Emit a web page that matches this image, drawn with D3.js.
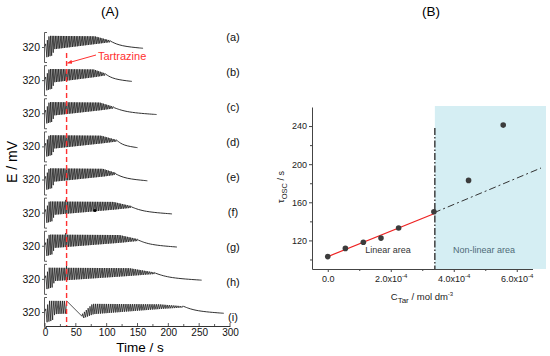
<!DOCTYPE html>
<html>
<head>
<meta charset="utf-8">
<script src="https://cdn.jsdelivr.net/npm/d3@7"></script>
<style>
  body { margin: 0; background: #fff; }
  text { font-family: "Liberation Sans", Arial, sans-serif; }
</style>
</head>
<body>
<svg id="chart" width="550" height="356"></svg>
<script>
// ---- panel (A): potential traces ----
const traceLabels = ["(a)", "(b)", "(c)", "(d)", "(e)", "(f)", "(g)", "(h)", "(i)"];
const tEnd    = [159, 141, 181, 150, 166, 206, 214, 254, 290];   // s, end of record
const tShrink = [80, 78, 88, 90, 93, 110, 120, 136, 184];        // amplitude starts to fade
const tStop   = [108, 100, 113, 118, 117, 143, 154, 181, 227];   // oscillations die out
const periodA = [2.6, 2.6, 2.6, 2.6, 2.6, 2.7, 2.7, 2.8, 3.0];
const injSpike = [0, 0, 1, 3, 3, 4, 4, 5, 0];                    // mV bump at injection
const tInject = 35;
const timeTicks = [0, 50, 100, 150, 200, 250, 300];

// envelope key values (mV) (a)
const topKeysV = [326, 346, 345, 334];          // at 0, 6, shrink, stop
const botKeysV = [296, 300, 315, 327, 332];     // at 0, 9, 13, shrink, stop
const tailV    = [333, 322, 317];               // stop, middle of tail, end

// trace (i): quiet gap after injection
const gapI = [35, 60];
const gapV = [346, 310];
const resumeTopV = [316, 339, 338, 333];        // at 60, 76, shrink, stop
const resumeBotV = [306, 315, 327, 331];

const dotF = [81, 325];  // small dot on trace (f)

// ---- panel (B) ----
const cTar   = [0, 0.56e-4, 1.13e-4, 1.69e-4, 2.25e-4, 3.37e-4, 4.47e-4, 5.57e-4];
const tauOsc = [103, 111.6, 118, 122.4, 133, 150, 183, 241];
const fitX = [0, 3.37e-4], fitY = [103, 148];
const extX = [3.37e-4, 6.77e-4], extY = [149, 196];
const limitC = 3.4e-4, limitTop = 238;
const cTicks = [0, 2e-4, 4e-4, 6e-4];
const cMinor = [1e-4, 3e-4, 5e-4];
const tauTicks = [120, 160, 200, 240];
const tauMinor = [100, 140, 180, 220];

const svg = d3.select("#chart");

// ================= panel A =================
const xA = d3.scaleLinear().domain([0, 300]).range([45, 230]);
const rowY = d3.scalePoint().domain(traceLabels).range([47, 312]);
const labY = d3.scalePoint().domain(traceLabels).range([37, 317]);
const eScale = d3.scaleLinear().domain([285, 355]).range([15, -15]);

svg.append("text").attr("x", 110).attr("y", 16).attr("text-anchor", "middle")
  .attr("font-size", 13.5).text("(A)");

function tracePoints(k) {
  const pts = [[0, 322]];
  const P = periodA[k];
  const special = k === 8;
  const top = d3.scaleLinear().domain([0, 6, tShrink[k], tStop[k]]).range(topKeysV).clamp(true);
  const bot = d3.scaleLinear().domain([0, 9, 13, tShrink[k], tStop[k]]).range(botKeysV).clamp(true);
  const top2 = d3.scaleLinear().domain([gapI[1], 76, tShrink[k], tStop[k]]).range(resumeTopV).clamp(true);
  const bot2 = d3.scaleLinear().domain([gapI[1], 76, tShrink[k], tStop[k]]).range(resumeBotV).clamp(true);
  let t = 0.4;
  while (t + P <= tStop[k]) {
    if (special && t + P > gapI[0] && t < gapI[1]) {
      pts.push([gapI[0], gapV[0]], [gapI[1], gapV[1]]);
      t = gapI[1];
      continue;
    }
    const after = special && t >= gapI[1];
    let hi = after ? top2(t) : top(t);
    const lo = after ? bot2(t) : bot(t);
    if (t <= tInject && t + P > tInject) hi += injSpike[k];
    pts.push([t + 0.3 * P, hi], [t + P, lo]);
    t += P;
  }
  const last = pts[pts.length - 1];
  last[1] = tailV[0];
  const tMid = t + 0.3 * (tEnd[k] - t);
  return { osc: pts, tail: [last, [tMid, tailV[1]], [tEnd[k], tailV[2]], [tEnd[k], tailV[2]]] };
}

const lineA = d3.line().x(d => xA(d[0])).y(d => eScale(d[1]));
const tailLine = d3.line().x(d => xA(d[0])).y(d => eScale(d[1])).curve(d3.curveBasis);

traceLabels.forEach((lab, k) => {
  const g = svg.append("g").attr("transform", `translate(0,${rowY(lab)})`);
  const yAx = d3.axisLeft(eScale).tickValues([320]).tickSizeInner(2).tickSizeOuter(-3).tickPadding(2);
  g.append("g").attr("transform", `translate(${xA(0) - 1},0)`).call(yAx)
    .call(s => s.selectAll("text").attr("font-size", 10.5).attr("fill", "#111"))
    .call(s => s.selectAll("path,line").attr("stroke", "#333").attr("stroke-width", 0.8));
  const tp = tracePoints(k);
  g.append("path").attr("d", lineA(tp.osc)).attr("fill", "none")
    .attr("stroke", "#1a1a1a").attr("stroke-width", 0.75);
  g.append("path").attr("d", tailLine(tp.tail))
    .attr("fill", "none").attr("stroke", "#1a1a1a").attr("stroke-width", 0.9);
  if (k === 5) {
    g.append("circle").attr("cx", xA(dotF[0])).attr("cy", eScale(dotF[1])).attr("r", 1.6).attr("fill", "#000");
  }
  svg.append("text").attr("x", 233).attr("y", labY(lab)).attr("dy", "0.35em")
    .attr("text-anchor", "middle").attr("font-size", 11).attr("fill", "#111").text(lab);
});

// time axis
const axA = d3.axisBottom(xA).tickValues(timeTicks).tickSize(0).tickPadding(3);
svg.append("g").attr("transform", "translate(0,326)").call(axA)
  .call(s => s.select(".domain").attr("stroke", "#333"))
  .call(s => s.selectAll("text").attr("font-size", 10).attr("fill", "#111"));
svg.append("g").selectAll("line").data(d3.range(0, 301, 25)).join("line")
  .attr("x1", d => xA(d)).attr("x2", d => xA(d))
  .attr("y1", 326).attr("y2", d => d % 50 === 0 ? 323 : 324)
  .attr("stroke", "#333").attr("stroke-width", 0.8);

svg.append("text").attr("x", 140).attr("y", 352).attr("text-anchor", "middle")
  .attr("font-size", 13.5).text("Time / s");
svg.append("text").attr("transform", "translate(17,162) rotate(-90)")
  .attr("text-anchor", "middle").attr("font-size", 14).text("E / mV");

// tartrazine marker
const red = "#ff3030";
svg.append("line").attr("x1", xA(tInject)).attr("x2", xA(tInject))
  .attr("y1", 53).attr("y2", 326).attr("stroke", red).attr("stroke-width", 1.4)
  .attr("stroke-dasharray", "5,3");
svg.append("defs").append("marker").attr("id", "arr").attr("viewBox", "0 0 10 10")
  .attr("refX", 9).attr("refY", 5).attr("markerWidth", 5).attr("markerHeight", 5)
  .attr("orient", "auto").append("path").attr("d", "M0,1L10,5L0,9Z").attr("fill", red);
svg.append("line").attr("x1", 96).attr("y1", 55).attr("x2", xA(tInject) + 1).attr("y2", 63)
  .attr("stroke", red).attr("stroke-width", 1).attr("marker-end", "url(#arr)");
svg.append("text").attr("x", 98).attr("y", 60).attr("font-size", 11).attr("fill", red).text("Tartrazine");

// ================= panel B =================
const xB = d3.scaleLinear().domain([-0.5e-4, 6.5e-4]).range([312, 532.5]);
const yB = d3.scaleLinear().domain([90, 260]).range([269, 107]);

svg.append("text").attr("x", 431).attr("y", 16).attr("text-anchor", "middle")
  .attr("font-size", 13.5).text("(B)");

svg.append("rect").attr("x", xB(limitC)).attr("y", yB(260) - 1)
  .attr("width", 546 - xB(limitC)).attr("height", yB(90) - yB(260) + 1)
  .attr("fill", "#d5eef3");

// axes
const sup = (sel) => sel.each(function (d) {
  const t = d3.select(this).text("");
  if (d === 0) { t.text("0.0"); return; }
  t.append("tspan").text((d / 1e-4).toFixed(1) + "x10");
  t.append("tspan").attr("dy", -4).attr("font-size", 6).text("-4");
});
svg.append("g").attr("transform", "translate(0,269)")
  .call(d3.axisBottom(xB).tickValues(cTicks).tickSize(3).tickSizeOuter(0).tickPadding(4))
  .call(s => s.selectAll("text").attr("font-size", 9).attr("fill", "#222").call(sup))
  .call(s => s.selectAll("path,line").attr("stroke", "#444"));
svg.append("g").attr("transform", "translate(0,269)")
  .call(d3.axisBottom(xB).tickValues(cMinor).tickSize(2).tickFormat(""))
  .call(s => s.select(".domain").remove())
  .call(s => s.selectAll("line").attr("stroke", "#444"));
svg.append("g").attr("transform", "translate(312,0)")
  .call(d3.axisLeft(yB).tickValues(tauTicks).tickSize(3).tickSizeOuter(0).tickPadding(2))
  .call(s => s.selectAll("text").attr("font-size", 9).attr("fill", "#222"))
  .call(s => s.selectAll("path,line").attr("stroke", "#444"));
svg.append("g").attr("transform", "translate(312,0)")
  .call(d3.axisLeft(yB).tickValues(tauMinor).tickSize(2).tickFormat(""))
  .call(s => s.select(".domain").remove())
  .call(s => s.selectAll("line").attr("stroke", "#444"));

// limit line and fits
svg.append("line").attr("x1", xB(limitC)).attr("x2", xB(limitC))
  .attr("y1", yB(limitTop)).attr("y2", 269).attr("stroke", "#333").attr("stroke-width", 1.4)
  .attr("stroke-dasharray", "7,2,1.5,2");
const lineB = d3.line().x(d => xB(d[0])).y(d => yB(d[1]));
svg.append("path").attr("d", lineB(d3.zip(extX, extY))).attr("fill", "none")
  .attr("stroke", "#333").attr("stroke-width", 1).attr("stroke-dasharray", "7,3,2,3");
svg.append("path").attr("d", lineB(d3.zip(fitX, fitY))).attr("fill", "none")
  .attr("stroke", "#ee2222").attr("stroke-width", 1.2);
svg.append("g").selectAll("circle").data(d3.zip(cTar, tauOsc)).join("circle")
  .attr("cx", d => xB(d[0])).attr("cy", d => yB(d[1])).attr("r", 2.8).attr("fill", "#3c3c3c");

svg.append("text").attr("x", 388).attr("y", 253).attr("text-anchor", "middle")
  .attr("font-size", 9).attr("fill", "#333").text("Linear area");
svg.append("text").attr("x", 484).attr("y", 253).attr("text-anchor", "middle")
  .attr("font-size", 9).attr("fill", "#4f6b77").text("Non-linear area");

// axis titles
const yt = svg.append("text").attr("transform", "translate(284,187) rotate(-90)")
  .attr("text-anchor", "middle").attr("font-size", 9).attr("fill", "#222");
yt.append("tspan").text("τ");
yt.append("tspan").attr("dy", 3).attr("font-size", 7.5).text("OSC");
yt.append("tspan").attr("dy", -3).text(" / s");

const xt = svg.append("text").attr("x", 422).attr("y", 300)
  .attr("text-anchor", "middle").attr("font-size", 9.5).attr("fill", "#222");
xt.append("tspan").text("C");
xt.append("tspan").attr("dy", 3).attr("font-size", 8).text("Tar");
xt.append("tspan").attr("dy", -3).text(" / mol dm");
xt.append("tspan").attr("dy", -4).attr("font-size", 6).text("-3");
</script>
</body>
</html>
